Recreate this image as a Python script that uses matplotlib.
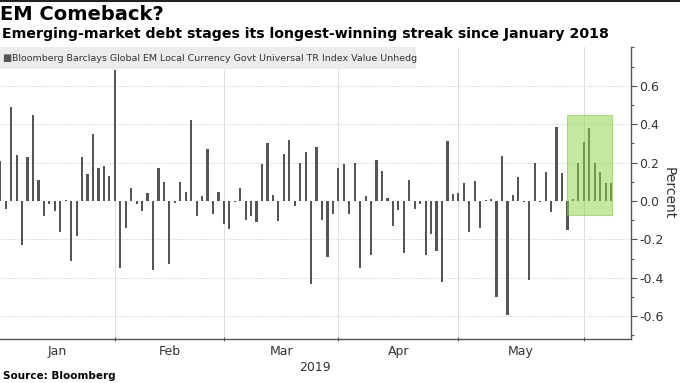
import matplotlib
matplotlib.use("Agg")
import matplotlib.pyplot as plt
import matplotlib.patches as patches
from matplotlib.ticker import MultipleLocator, FixedLocator, NullFormatter
import numpy as np
import pandas as pd

# daily returns, business days 2019-01-03 .. 2019-06-10
dates = pd.bdate_range("2019-01-03", "2019-06-10")
jan = [0.21, -0.04, 0.49, 0.24, -0.23, 0.23, 0.45, 0.11, -0.08, -0.014, -0.05,
       -0.16, 0.003, -0.31, -0.18, 0.23, 0.14, 0.35, 0.17, 0.18, 0.13]
feb = [0.68, -0.35, -0.14, 0.07, -0.014, -0.05, 0.04, -0.36, 0.17, 0.10,
       -0.33, -0.01, 0.10, 0.045, 0.42, -0.08, 0.024, 0.27, -0.07, 0.047]
mar = [-0.12, -0.146, -0.007, 0.066, -0.10, -0.08, -0.11, 0.195, 0.30, 0.03,
       -0.106, 0.245, 0.32, -0.024, 0.20, 0.256, -0.43, 0.28, -0.10, -0.29, -0.066]
apr = [0.174, 0.193, -0.07, 0.198, -0.35, 0.028, -0.28, 0.214, 0.158, 0.017, -0.13,
       -0.045, -0.27, 0.11, -0.04, -0.017, -0.28, -0.17, -0.26, -0.42, 0.31, 0.037]
may = [0.04, 0.092, -0.16, 0.104, -0.14, 0.003, 0.009, -0.50, 0.235, -0.595, 0.031,
       0.123, -0.004, -0.41, 0.20, -0.004, 0.15, -0.057, 0.385, 0.146, -0.153, 0.009, 0.197]
jun = [0.308, 0.38, 0.20, 0.153, 0.096, 0.092]
values = np.array(jan + feb + mar + apr + may + jun)

month_names = ["Jan", "Feb", "Mar", "Apr", "May"]
streak_start = "2019-05-30"   # highlighted winning streak
streak_end = "2019-06-10"

x = np.arange(len(dates))
month_starts = [i for i in range(1, len(dates)) if dates[i].month != dates[i - 1].month]

fig = plt.figure(figsize=(6.8, 3.83), dpi=100)
ax = fig.add_axes([0.0, 0.1141, 0.9275, 0.7624])

ax.bar(x, values, width=0.4, color="#555555", zorder=3)

xmin, xmax = -0.05, 115.6
ax.set_xlim(xmin, xmax)
ax.set_ylim(-0.72, 0.8)

# highlight box
i0 = dates.get_loc(pd.Timestamp(streak_start))
i1 = dates.get_loc(pd.Timestamp(streak_end))
ax.add_patch(patches.Rectangle((i0 - 1.1, -0.075), i1 - i0 + 1.25, 0.52,
                               facecolor="#8fd34a", alpha=0.52, edgecolor="#7cc040",
                               linewidth=0.8, zorder=4))

# axes styling
for s in ["left", "top"]:
    ax.spines[s].set_visible(False)
for s in ["right", "bottom"]:
    ax.spines[s].set_color("#555555")
    ax.spines[s].set_linewidth(1.0)

ax.yaxis.tick_right()
ax.yaxis.set_label_position("right")
ax.yaxis.set_major_locator(FixedLocator([-0.6, -0.4, -0.2, 0.0, 0.2, 0.4, 0.6]))
ax.yaxis.set_minor_locator(MultipleLocator(0.1))
ax.set_yticklabels(["-0.6", "-0.4", "-0.2", "0.0", "0.2", "0.4", "0.6"])
ax.tick_params(axis="y", which="major", length=4, width=0.8, color="#555555",
               labelsize=9, labelcolor="#333333", pad=2)
ax.tick_params(axis="y", which="minor", length=2, width=0.8, color="#555555")
ax.set_ylabel("Percent", rotation=270, fontsize=10, color="#333333", labelpad=9)

# month boundaries as ticks, month names centered between them
bounds = [xmin] + month_starts
mids = [(bounds[k] + bounds[k + 1]) / 2 for k in range(len(month_names))]
ax.xaxis.set_major_locator(FixedLocator(month_starts))
ax.xaxis.set_major_formatter(NullFormatter())
ax.xaxis.set_minor_locator(FixedLocator(mids))
ax.set_xticklabels(month_names, minor=True)
ax.tick_params(axis="x", which="major", length=3, width=0.8, color="#555555", direction="inout")
ax.tick_params(axis="x", which="minor", length=0, labelsize=9, labelcolor="#333333", pad=4)
ax.set_xlabel("2019", fontsize=9, color="#333333", labelpad=2)

ax.grid(axis="x", which="major", color="#dddddd", linewidth=0.7, zorder=0)
for v in [-0.6, -0.4, -0.2, 0.2, 0.4, 0.6]:
    ax.axhline(v, color="#cccccc", linewidth=0.7, linestyle=(0, (1, 1.5)), zorder=0)

# legend strip
ax.add_patch(patches.Rectangle((0, 0.926), 0.66, 0.074, transform=ax.transAxes,
                               facecolor="#ececec", edgecolor="none", zorder=5))
ax.text(0.004, 0.963, "\u25a0", transform=ax.transAxes, fontsize=7, color="#555555",
        va="center", ha="left", zorder=6)
ax.text(0.019, 0.963, "Bloomberg Barclays Global EM Local Currency Govt Universal TR Index Value Unhedg",
        transform=ax.transAxes, fontsize=6.8, color="#333333", va="center", ha="left", zorder=6)

# titles and source
fig.text(0.0, 0.962, "EM Comeback?", fontsize=14, fontweight="bold", va="center", ha="left")
fig.text(0.003, 0.91, "Emerging-market debt stages its longest-winning streak since January 2018",
         fontsize=10.15, fontweight="bold", va="center", ha="left")
fig.text(0.004, 0.018, "Source: Bloomberg", fontsize=7.5, fontweight="bold", va="center", ha="left")
fig.add_artist(plt.Line2D([0, 1], [0.998, 0.998], transform=fig.transFigure,
                          color="#222222", linewidth=1.5))

fig.savefig("out.png", dpi=100)
